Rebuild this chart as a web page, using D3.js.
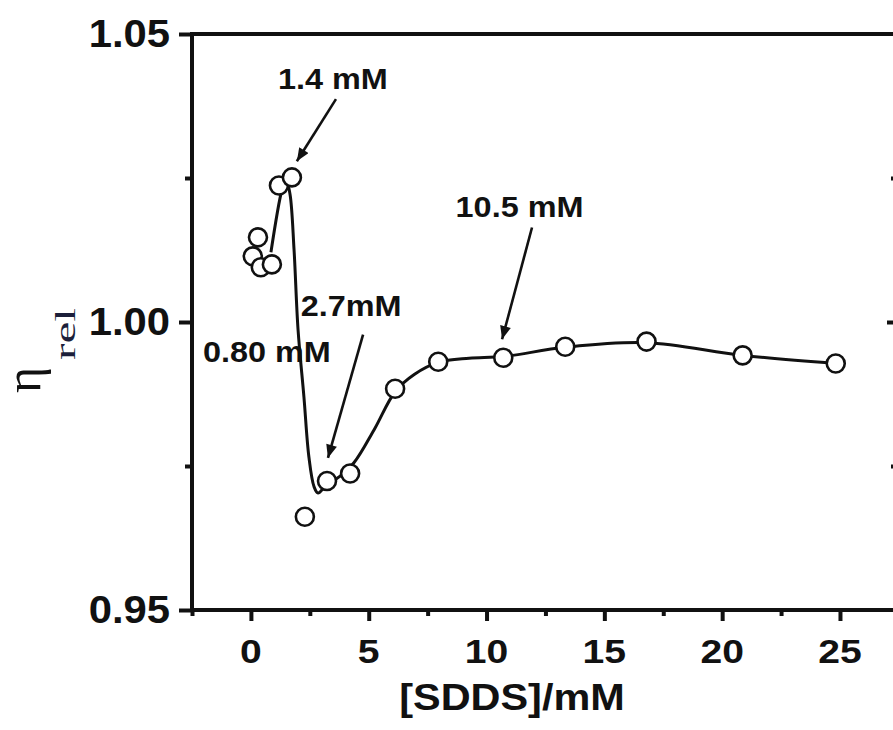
<!DOCTYPE html>
<html>
<head>
<meta charset="utf-8">
<script src="https://cdn.jsdelivr.net/npm/d3@7"></script>
<style>
  html, body { margin: 0; padding: 0; background: #ffffff; }
  svg { display: block; }
  text { font-family: "Liberation Sans", Arial, sans-serif; font-weight: bold; fill: #111; }
</style>
</head>
<body>
<svg id="chart" width="893" height="730"></svg>
<script>
// Measured relative viscosity vs. SDDS concentration
const sddsConc = [0.08, 0.30, 0.42, 0.89, 1.19, 1.74, 2.29, 3.23, 4.21, 6.12, 7.95, 10.71, 13.34, 16.79, 20.87, 24.82];
const etaRel   = [1.0114, 1.0147, 1.0095, 1.0100, 1.0237, 1.0251, 0.9662, 0.9724, 0.9737, 0.9884, 0.9931, 0.9938, 0.9957, 0.9966, 0.9942, 0.9928];

// Guide curve drawn through the measured trend
const curveConc = [0.85, 1.32, 1.49, 1.66, 1.83, 2.00, 2.25, 2.46, 2.68, 2.85, 3.14, 3.74, 4.38, 5.23, 6.12, 6.93, 7.95, 9.26, 10.71, 13.34, 16.79, 20.87, 24.82];
const curveEta  = [1.0121, 1.0230, 1.0248, 1.0222, 1.0126, 0.9987, 0.9870, 0.9766, 0.9714, 0.9703, 0.9714, 0.9731, 0.9756, 0.9813, 0.9879, 0.9909, 0.9930, 0.9937, 0.9940, 0.9956, 0.9964, 0.9942, 0.9928];

// Axis ticks
const xMajorTicks = [0, 5, 10, 15, 20, 25];
const xMinorTicks = [-2.5, 2.5, 7.5, 12.5, 17.5, 22.5];
const yMajorTicks = [0.95, 1.00, 1.05];
const yMinorTicks = [0.975, 1.025];
const yTickLabels = ["0.95", "1.00", "1.05"];

// Annotated concentrations (label anchor and arrow ends, in data units)
const noteLabels = ["1.4 mM", "2.7mM", "10.5 mM", "0.80 mM"];
const noteTextX  = [3.48, 4.25, 11.4, 0.68];
const noteTextY  = [1.0404, 1.0011, 1.0182, 0.9931];
const noteFromX  = [3.61, 4.76, 11.93, null];
const noteFromY  = [1.0387, 0.9978, 1.0164, null];
const noteToX    = [1.95, 3.27, 10.66, null];
const noteToY    = [1.0279, 0.9764, 0.9970, null];

const svg = d3.select("#chart");
const frameL = 192, frameR = 897, frameT = 34, frameB = 610;

const x = d3.scaleLinear().domain([-2.5, 27.42]).range([frameL, frameR]);
const y = d3.scaleLinear().domain([0.95, 1.05]).range([frameB, frameT]);

const AX = 4;

// Arrow head marker
svg.append("defs").append("marker")
  .attr("id", "head")
  .attr("viewBox", "0 0 12 10")
  .attr("refX", 12).attr("refY", 5)
  .attr("markerUnits", "userSpaceOnUse")
  .attr("markerWidth", 14).attr("markerHeight", 11)
  .attr("orient", "auto")
  .append("path").attr("d", "M0,0 L12,5 L0,10 Z").attr("fill", "#111");

// Ticks
function styleAxis(g) {
  g.select(".domain").remove();
  g.selectAll(".tick line").attr("stroke", "#111").attr("stroke-width", 4);
}

svg.append("g").attr("transform", `translate(0,${frameB})`)
  .call(d3.axisBottom(x).tickValues(xMajorTicks).tickSize(11).tickFormat(""))
  .call(styleAxis);
svg.append("g").attr("transform", `translate(0,${frameB})`)
  .call(d3.axisBottom(x).tickValues(xMinorTicks).tickSize(6).tickFormat(""))
  .call(styleAxis);

svg.append("g").attr("transform", `translate(${frameL},0)`)
  .call(d3.axisLeft(y).tickValues(yMajorTicks).tickSize(13).tickFormat(""))
  .call(styleAxis);
svg.append("g").attr("transform", `translate(${frameL},0)`)
  .call(d3.axisLeft(y).tickValues(yMinorTicks).tickSize(7).tickFormat(""))
  .call(styleAxis);

// Right axis: inward ticks
svg.append("g").attr("transform", `translate(${frameR},0)`)
  .call(d3.axisLeft(y).tickValues([1.00]).tickSize(10).tickFormat(""))
  .call(styleAxis);
svg.append("g").attr("transform", `translate(${frameR},0)`)
  .call(d3.axisLeft(y).tickValues(yMinorTicks).tickSize(6).tickFormat(""))
  .call(styleAxis);

// Frame
svg.append("rect")
  .attr("x", frameL).attr("y", frameT)
  .attr("width", frameR - frameL).attr("height", frameB - frameT)
  .attr("fill", "none").attr("stroke", "#111").attr("stroke-width", AX);

// Tick labels
svg.append("g").selectAll("text")
  .data(xMajorTicks)
  .join("text")
  .attr("transform", d => `translate(${x(d)},${frameB + 53}) scale(1.15,1)`)
  .attr("text-anchor", "middle")
  .attr("font-size", 34)
  .text(d => d);

svg.append("g").selectAll("text")
  .data(yMajorTicks)
  .join("text")
  .attr("transform", d => `translate(${frameL - 22},${y(d) + 13}) scale(1.1,1)`)
  .attr("text-anchor", "end")
  .attr("font-size", 38)
  .text((d, i) => yTickLabels[i]);

// Axis titles
svg.append("text")
  .attr("transform", `translate(512,710) scale(1.12,1)`)
  .attr("text-anchor", "middle")
  .attr("font-size", 37)
  .text("[SDDS]/mM");

const yTitle = svg.append("g").attr("transform", "translate(2,393) rotate(-90)");
yTitle.append("text")
  .attr("x", 0).attr("y", 38)
  .style("font-family", "'Liberation Serif', 'Times New Roman', serif")
  .style("font-weight", "normal")
  .attr("font-size", 50)
  .text("η");
yTitle.append("text")
  .attr("x", 33).attr("y", 73)
  .style("font-family", "'Liberation Serif', 'Times New Roman', serif")
  .style("font-weight", "normal")
  .style("fill", "#1c1f3a")
  .attr("font-size", 30)
  .attr("textLength", 52)
  .attr("lengthAdjust", "spacingAndGlyphs")
  .text("rel");

// Guide curve
const line = d3.line()
  .x(i => x(curveConc[i]))
  .y(i => y(curveEta[i]))
  .curve(d3.curveCatmullRom.alpha(0.5));
svg.append("path")
  .attr("d", line(d3.range(curveConc.length)))
  .attr("fill", "none")
  .attr("stroke", "#111")
  .attr("stroke-width", 3);

// Data points
svg.append("g").selectAll("circle")
  .data(d3.range(sddsConc.length))
  .join("circle")
  .attr("cx", i => x(sddsConc[i]))
  .attr("cy", i => y(etaRel[i]))
  .attr("r", 9)
  .attr("fill", "#fff")
  .attr("stroke", "#111")
  .attr("stroke-width", 2.6);

// Annotations
const notes = svg.append("g");
noteLabels.forEach((label, i) => {
  if (noteFromX[i] !== null) {
    notes.append("line")
      .attr("x1", x(noteFromX[i])).attr("y1", y(noteFromY[i]))
      .attr("x2", x(noteToX[i])).attr("y2", y(noteToY[i]))
      .attr("stroke", "#111").attr("stroke-width", 2.6)
      .attr("marker-end", "url(#head)");
  }
  notes.append("text")
    .attr("transform", `translate(${x(noteTextX[i])},${y(noteTextY[i])}) scale(1.08,1)`)
    .attr("text-anchor", "middle")
    .attr("font-size", 30)
    .text(label);
});
</script>
</body>
</html>
